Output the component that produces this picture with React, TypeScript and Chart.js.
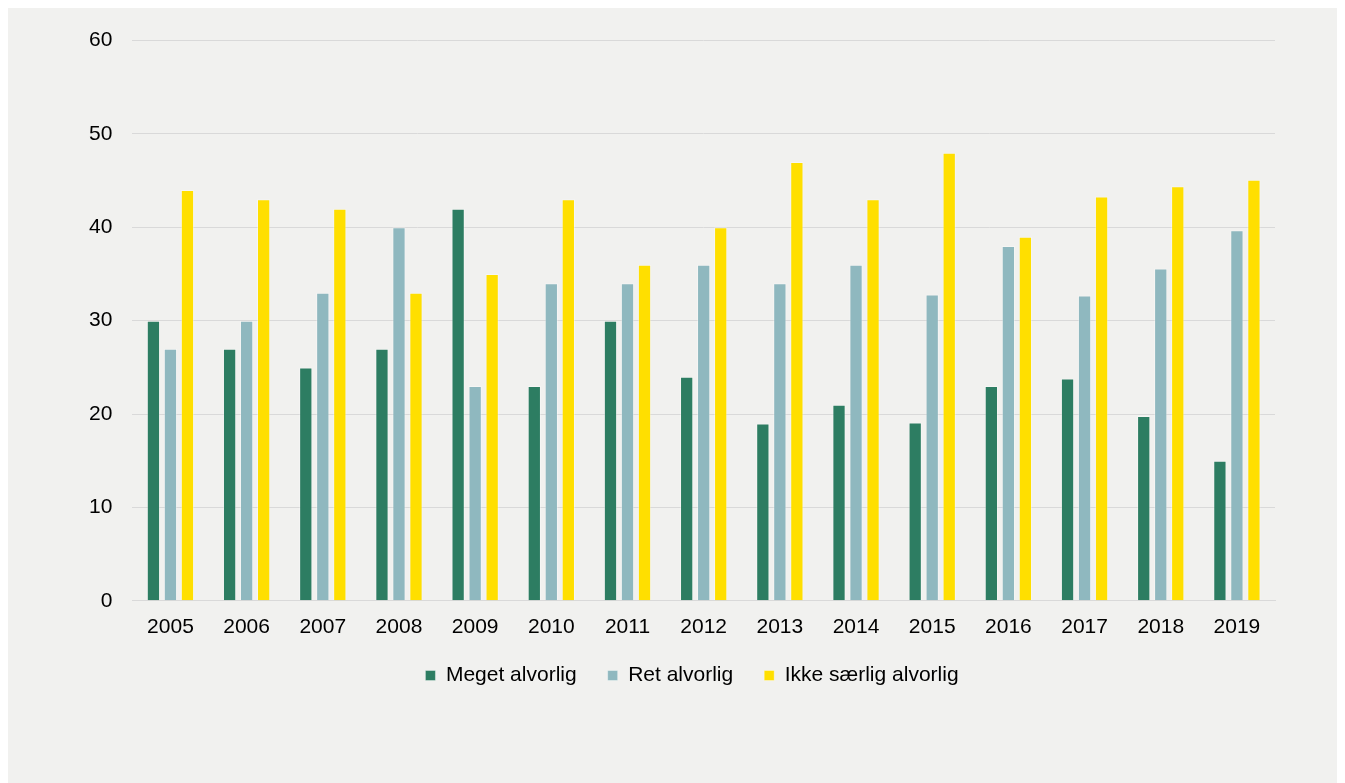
import React, { useEffect, useRef } from "react";
import { Chart, registerables } from "chart.js";

Chart.register(...registerables);

const years = ["2005","2006","2007","2008","2009","2010","2011","2012","2013","2014","2015","2016","2017","2018","2019"];
const megetAlvorlig = [30, 27, 25, 27, 42, 23, 30, 24, 19, 21, 19.1, 23, 23.8, 19.8, 15];
const retAlvorlig = [27, 30, 33, 40, 23, 34, 34, 36, 34, 36, 32.8, 38, 32.7, 35.6, 39.7];
const ikkeSaerligAlvorlig = [44, 43, 42, 33, 35, 43, 36, 40, 47, 43, 48, 39, 43.3, 44.4, 45.1];
const yTicks = [0, 10, 20, 30, 40, 50, 60];

const FONT = "'Liberation Sans', Arial, sans-serif";

const shiftLegend = {
  id: "shiftLegend",
  afterLayout(chart: any) {
    if (chart.legend) {
      chart.legend.left += 20;
      chart.legend.right += 20;
    }
  },
};

export default function App() {
  const ref = useRef<HTMLCanvasElement | null>(null);
  useEffect(() => {
    document.documentElement.style.overflow = "hidden";
    document.body.style.overflow = "hidden";
    if (!ref.current) return;
    const chart = new Chart(ref.current, {
      type: "bar",
      data: {
        labels: years,
        datasets: [
          { label: "Meget alvorlig", data: megetAlvorlig, backgroundColor: "#2d7d62", borderColor: "rgba(255,255,255,0.35)", borderWidth: 1 },
          { label: "Ret alvorlig", data: retAlvorlig, backgroundColor: "#8fb8bf", borderColor: "rgba(255,255,255,0.35)", borderWidth: 1 },
          { label: "Ikke særlig alvorlig", data: ikkeSaerligAlvorlig, backgroundColor: "#ffdf00", borderColor: "rgba(255,255,255,0.35)", borderWidth: 1 },
        ],
      },
      options: {
        animation: false,
        responsive: false,
        maintainAspectRatio: false,
        datasets: { bar: { barPercentage: 0.78, categoryPercentage: 0.67 } },
        layout: { padding: { left: 61, right: 70, top: 16, bottom: 87 } },
        scales: {
          x: {
            grid: { display: false, drawTicks: false },
            border: { display: true, color: "#d9d9d9", width: 1 },
            ticks: { color: "#000", font: { family: FONT, size: 21 }, padding: 14, maxRotation: 0 },
            afterFit: (axis: any) => { axis.height -= 20; },
          },
          y: {
            min: 0,
            max: 60,
            afterBuildTicks: (axis: any) => { axis.ticks = yTicks.map((v) => ({ value: v })); },
            grid: { color: "#d9d9d9", lineWidth: 1, drawTicks: false },
            border: { display: false },
            ticks: { color: "#000", font: { family: FONT, size: 21 }, padding: 20 },
          },
        },
        plugins: {
          legend: {
            position: "bottom",
            labels: { color: "#000", font: { family: FONT, size: 21 }, boxWidth: 10, boxHeight: 10, padding: 31 },
          },
          tooltip: { enabled: false },
        },
      },
      plugins: [shiftLegend],
    });
    return () => chart.destroy();
  }, []);
  return (
    <div style={{ width: 1337, height: 775, background: "#f1f1ef" }}>
      <canvas ref={ref} width={1337} height={775} style={{ display: "block", width: 1337, height: 775 }} />
    </div>
  );
}
